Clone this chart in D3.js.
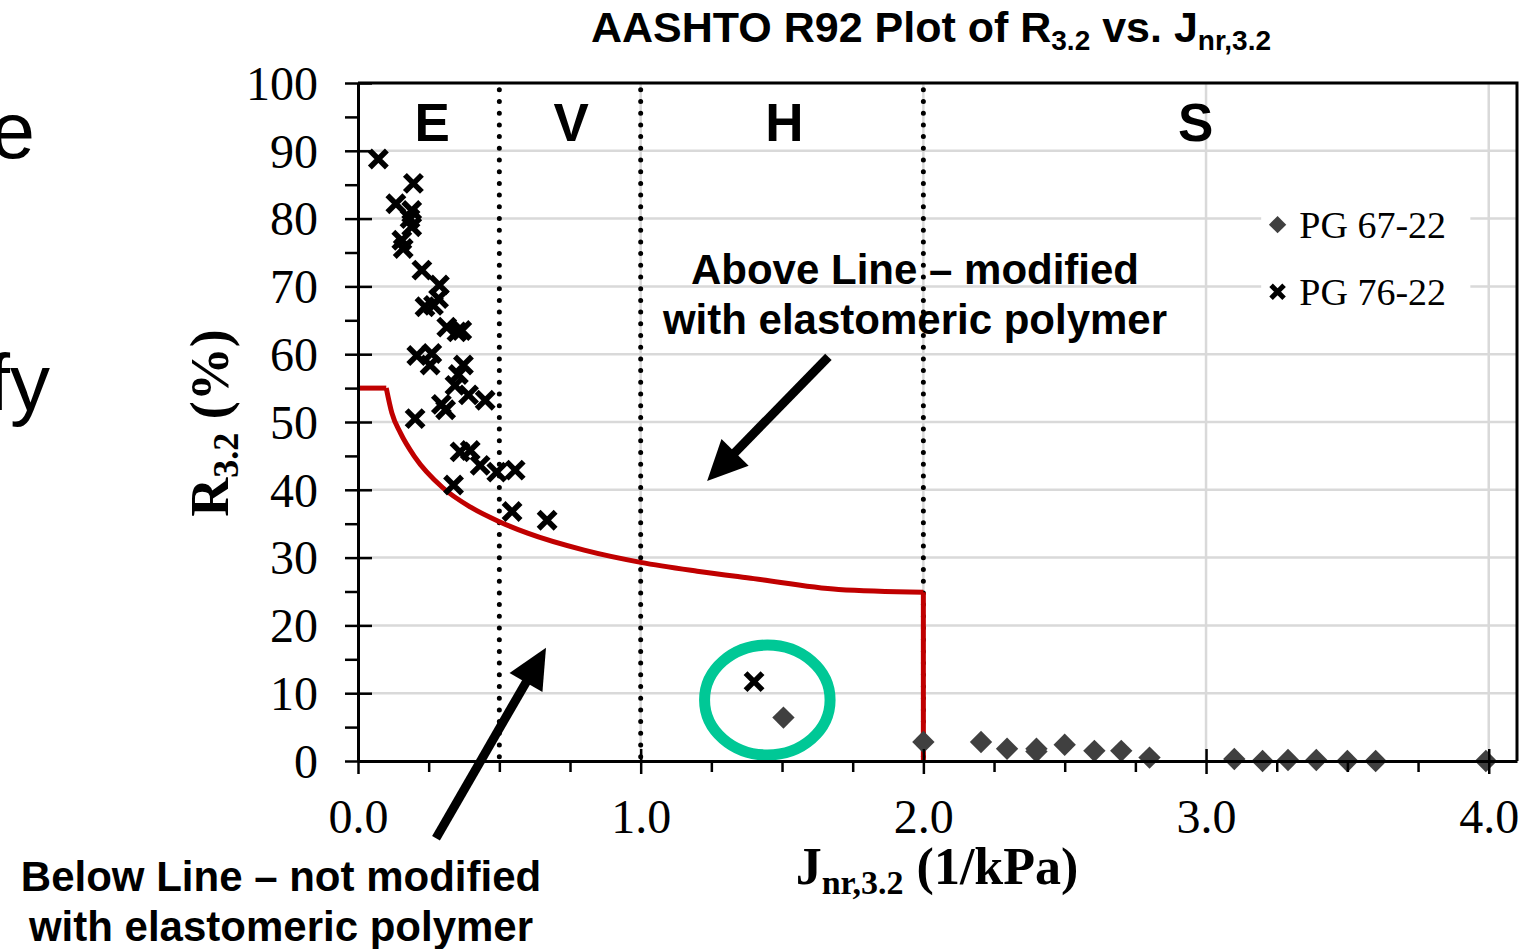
<!DOCTYPE html>
<html>
<head>
<meta charset="utf-8">
<script src="https://cdn.jsdelivr.net/npm/d3@7"></script>
<style>
  html, body { margin: 0; padding: 0; background: #fff; }
  svg { display: block; }
</style>
</head>
<body>
<div id="wrapper"></div>
<script>
// ---- data ----
const seriesNames = ["PG 67-22", "PG 76-22"]

// PG 67-22 (diamonds): Jnr,3.2 and R3.2
const pg67Jnr = [1.505, 2.0, 2.204, 2.296, 2.40, 2.40, 2.50, 2.605, 2.70, 2.80, 3.10, 3.20, 3.29, 3.39, 3.50, 3.60, 3.99]
const pg67R   = [6.4, 2.8, 2.8, 1.8, 1.8, 1.4, 2.4, 1.5, 1.5, 0.5, 0.3, 0.0, 0.15, 0.15, 0.0, 0.0, 0.0]

// PG 76-22 (crosses)
const pg76Jnr = [0.072, 0.196, 0.134, 0.19, 0.184, 0.19, 0.155, 0.16, 0.226, 0.288, 0.237, 0.267, 0.285,
                 0.314, 0.367, 0.35, 0.208, 0.261, 0.255, 0.373, 0.355, 0.343, 0.391, 0.45, 0.202, 0.295,
                 0.31, 0.361, 0.397, 0.432, 0.491, 0.556, 0.338, 0.545, 0.669, 1.401]
const pg76R   = [88.8, 85.2, 82.2, 81.2, 80.0, 78.8, 76.8, 75.6, 72.4, 70.2, 67.0, 67.2, 68.2,
                 64.0, 63.5, 63.3, 59.8, 60.1, 58.4, 58.4, 57.0, 55.4, 54.0, 53.2, 50.5, 52.6,
                 51.8, 45.6, 45.8, 43.6, 42.6, 42.9, 40.7, 36.8, 35.5, 11.7]

// red AASHTO R92 limit line
const limitJnr = [0, 0.1, 0.12, 0.15, 0.2, 0.3, 0.4, 0.5, 0.6, 0.8, 1.0, 1.2, 1.4, 1.7, 2.0, 2.0]
const limitR   = [55, 55, 51.3, 48.4, 44.9, 40.3, 37.4, 35.3, 33.6, 31.1, 29.3, 28.0, 26.9, 25.3, 24.9, 0]

// zone boundaries and labels
const zoneBounds = [0.5, 1.0, 2.0]
const zoneLabels = ["E", "V", "H", "S"]
const zoneLabelJnr = [0.262, 0.754, 1.508, 2.963]

// ticks
const xMajorTicks = [0, 1, 2, 3, 4]
const xMinorTicks = [0.25, 0.5, 0.75, 1.25, 1.5, 1.75, 2.25, 2.5, 2.75, 3.25, 3.5, 3.75]
const yMajorTicks = [0, 10, 20, 30, 40, 50, 60, 70, 80, 90, 100]
const yMinorTicks = [5, 15, 25, 35, 45, 55, 65, 75, 85, 95]

const drawChart = () => {
  const dimensions = {
    width: 1540,
    height: 949,
    margin: { top: 83, right: 23, bottom: 188, left: 358 },
  }
  dimensions.boundedWidth = dimensions.width - dimensions.margin.left - dimensions.margin.right
  dimensions.boundedHeight = dimensions.height - dimensions.margin.top - dimensions.margin.bottom

  const serif = "'Liberation Serif', 'Times New Roman', serif"
  const sans = "'Liberation Sans', Arial, sans-serif"

  const svg = d3.select("#wrapper")
    .append("svg")
      .attr("width", dimensions.width)
      .attr("height", dimensions.height)

  // leftover slide text on the far left (cut by the picture edge, as in the source)
  svg.append("text").attr("x", 35).attr("y", 158)
    .attr("text-anchor", "end").style("font-family", sans).style("font-size", "80px").text("e")
  svg.append("text").attr("x", 50).attr("y", 410)
    .attr("text-anchor", "end").style("font-family", sans).style("font-size", "80px").text("fy")

  const bounds = svg.append("g")
    .attr("transform", `translate(${dimensions.margin.left},${dimensions.margin.top})`)

  const xScale = d3.scaleLinear().domain([0, 4.1]).range([0, dimensions.boundedWidth])
  const yScale = d3.scaleLinear().domain([0, 100]).range([dimensions.boundedHeight, 0])

  // gridlines
  bounds.append("g").selectAll("line")
    .data(yMajorTicks.slice(1))
    .join("line")
      .attr("x1", 0).attr("x2", dimensions.boundedWidth)
      .attr("y1", d => yScale(d)).attr("y2", d => yScale(d))
      .attr("stroke", "#d9d9d9").attr("stroke-width", 2.5)
  bounds.append("g").selectAll("line")
    .data(xMajorTicks.slice(1))
    .join("line")
      .attr("x1", d => xScale(d)).attr("x2", d => xScale(d))
      .attr("y1", 0).attr("y2", dimensions.boundedHeight)
      .attr("stroke", "#d9d9d9").attr("stroke-width", 2.5)

  // legend background knocks out the gridlines
  bounds.append("rect")
    .attr("x", xScale(3.195)).attr("y", yScale(83.7))
    .attr("width", xScale(0.74)).attr("height", dimensions.boundedHeight - yScale(18))
    .attr("fill", "#fff")

  // zone dividers (dotted)
  bounds.append("g").selectAll("line")
    .data(zoneBounds)
    .join("line")
      .attr("x1", d => xScale(d)).attr("x2", d => xScale(d))
      .attr("y1", yScale(99)).attr("y2", dimensions.boundedHeight)
      .attr("stroke", "#000").attr("stroke-width", 5)
      .attr("stroke-linecap", "round").attr("stroke-dasharray", "0 11.7")

  // zone letters
  bounds.append("g").selectAll("text")
    .data(zoneLabels)
    .join("text")
      .attr("x", (d, i) => xScale(zoneLabelJnr[i]))
      .attr("y", yScale(91.5))
      .attr("text-anchor", "middle")
      .style("font-family", sans).style("font-weight", "bold").style("font-size", "53px")
      .text(d => d)

  // red limit line: flat part, curve, vertical drop
  const limitData = d3.zip(limitJnr, limitR)
  const straight = d3.line().x(d => xScale(d[0])).y(d => yScale(d[1]))
  const curved = d3.line().x(d => xScale(d[0])).y(d => yScale(d[1])).curve(d3.curveMonotoneX)
  const redPaths = [straight(limitData.slice(0, 2)), curved(limitData.slice(1, -1)), straight(limitData.slice(-2))]
  bounds.append("g").selectAll("path")
    .data(redPaths)
    .join("path")
      .attr("d", d => d)
      .attr("fill", "none").attr("stroke", "#c00000").attr("stroke-width", 5)
      .attr("stroke-linejoin", "round")

  // annotations: ellipse + arrows
  bounds.append("ellipse")
    .attr("cx", xScale(1.448)).attr("cy", yScale(9.0))
    .attr("rx", xScale(0.222)).attr("ry", dimensions.boundedHeight - yScale(8.1))
    .attr("fill", "none").attr("stroke", "#00c896").attr("stroke-width", 11)

  const drawArrow = (j1, r1, j2, r2) => {
    const x1 = xScale(j1), y1 = yScale(r1), x2 = xScale(j2), y2 = yScale(r2)
    const ang = Math.atan2(y2 - y1, x2 - x1)
    const headLen = 40, headHalf = 19
    const bx = x2 - headLen * Math.cos(ang), by = y2 - headLen * Math.sin(ang)
    bounds.append("line")
      .attr("x1", x1).attr("y1", y1).attr("x2", bx + 2 * Math.cos(ang)).attr("y2", by + 2 * Math.sin(ang))
      .attr("stroke", "#000").attr("stroke-width", 9)
    const px = -Math.sin(ang), py = Math.cos(ang)
    bounds.append("path")
      .attr("d", `M${x2},${y2}L${bx + headHalf * px},${by + headHalf * py}L${bx - headHalf * px},${by - headHalf * py}Z`)
      .attr("fill", "#000")
  }
  drawArrow(1.664, 59.6, 1.235, 41.3)
  drawArrow(0.276, -11.4, 0.665, 16.7)

  // data: PG 67-22 diamonds
  const diamond = d3.symbol(d3.symbolSquare, 250)
  bounds.append("g").selectAll("path")
    .data(d3.zip(pg67Jnr, pg67R))
    .join("path")
      .attr("d", diamond)
      .attr("transform", d => `translate(${xScale(d[0])},${yScale(d[1])}) rotate(45)`)
      .attr("fill", "#404040")

  // data: PG 76-22 crosses
  const crossPath = r => `M${-r},${-r}L${r},${r}M${-r},${r}L${r},${-r}`
  bounds.append("g").selectAll("path")
    .data(d3.zip(pg76Jnr, pg76R))
    .join("path")
      .attr("d", crossPath(8.5))
      .attr("transform", d => `translate(${xScale(d[0])},${yScale(d[1])})`)
      .attr("fill", "none").attr("stroke", "#000").attr("stroke-width", 5.5)

  // axes
  const xAxis = bounds.append("g")
    .attr("transform", `translate(0,${dimensions.boundedHeight})`)
    .call(d3.axisBottom(xScale).tickValues(xMajorTicks).tickFormat(d3.format(".1f")).tickSizeOuter(0))
  xAxis.selectAll(".tick line").attr("y1", -12).attr("y2", 13).attr("stroke-width", 2.5)
  xAxis.selectAll(".tick text")
    .attr("y", 72).attr("dy", 0)
    .style("font-family", serif).style("font-size", "48px").attr("fill", "#000")
  bounds.append("g")
    .attr("transform", `translate(0,${dimensions.boundedHeight})`)
    .call(d3.axisBottom(xScale).tickValues(xMinorTicks).tickFormat("").tickSize(11).tickSizeOuter(0))
    .call(g => g.select(".domain").remove())
    .selectAll("line").attr("stroke-width", 2.5)

  const yAxis = bounds.append("g")
    .call(d3.axisLeft(yScale).tickValues(yMajorTicks).tickSizeOuter(0))
  yAxis.selectAll(".tick line").attr("x1", -13).attr("x2", 14).attr("stroke-width", 2.5)
  yAxis.selectAll(".tick text")
    .attr("x", -40).attr("dy", "0.34em")
    .style("font-family", serif).style("font-size", "48px").attr("fill", "#000")
  bounds.append("g")
    .call(d3.axisLeft(yScale).tickValues(yMinorTicks).tickFormat("").tickSize(13).tickSizeOuter(0))
    .call(g => g.select(".domain").remove())
    .selectAll("line").attr("stroke-width", 2.5)

  xAxis.select(".domain").attr("stroke-width", 3)
  yAxis.select(".domain").attr("stroke-width", 3)

  // frame top + right
  bounds.append("path")
    .attr("d", `M0,0H${dimensions.boundedWidth}V${dimensions.boundedHeight}`)
    .attr("fill", "none").attr("stroke", "#000").attr("stroke-width", 3)

  // legend
  const legend = bounds.append("g")
  const legendY = [yScale(79.1), yScale(69.2)]
  legend.append("path")
    .attr("d", d3.symbol(d3.symbolSquare, 150)())
    .attr("transform", `translate(${xScale(3.253)},${legendY[0]}) rotate(45)`)
    .attr("fill", "#404040")
  legend.append("path")
    .attr("d", crossPath(6.5))
    .attr("transform", `translate(${xScale(3.253)},${legendY[1]})`)
    .attr("fill", "none").attr("stroke", "#000").attr("stroke-width", 5)
  legend.selectAll("text")
    .data(seriesNames)
    .join("text")
      .attr("x", xScale(3.33))
      .attr("y", (d, i) => legendY[i] + 13)
      .style("font-family", serif).style("font-size", "38px")
      .text(d => d)

  // annotation text
  const noteText = (lines, cx, y0) => {
    svg.append("g").selectAll("text")
      .data(lines)
      .join("text")
        .attr("x", cx).attr("y", (d, i) => y0 + i * 50)
        .attr("text-anchor", "middle")
        .style("font-family", sans).style("font-weight", "bold").style("font-size", "42px")
        .text(d => d)
  }
  noteText(["Above Line \u2013 modified", "with elastomeric polymer"], 915, 284)
  noteText(["Below Line \u2013 not modified", "with elastomeric polymer"], 281, 891)

  // title
  const title = svg.append("text")
    .attr("x", 931).attr("y", 42)
    .attr("text-anchor", "middle")
    .style("font-family", sans).style("font-weight", "bold").style("font-size", "43px")
  title.append("tspan").text("AASHTO R92 Plot of R")
  title.append("tspan").attr("dy", 8).style("font-size", "28px").text("3.2")
  title.append("tspan").attr("dy", -8).text(" vs. J")
  title.append("tspan").attr("dy", 8).style("font-size", "28px").text("nr,3.2")

  // x axis label
  const xLabel = svg.append("text")
    .attr("x", 937).attr("y", 884)
    .attr("text-anchor", "middle")
    .style("font-family", serif).style("font-weight", "bold").style("font-size", "52px")
  xLabel.append("tspan").text("J")
  xLabel.append("tspan").attr("dy", 10).style("font-size", "34px").text("nr,3.2")
  xLabel.append("tspan").attr("dy", -10).text(" (1/kPa)")

  // y axis label
  const yLabel = svg.append("text")
    .attr("transform", "translate(228,423) rotate(-90)")
    .attr("text-anchor", "middle")
    .style("font-family", serif).style("font-weight", "bold").style("font-size", "54px")
  yLabel.append("tspan").text("R")
  yLabel.append("tspan").attr("dy", 10).style("font-size", "36px").text("3.2")
  yLabel.append("tspan").attr("dy", -10).text(" (%)")
}

drawChart()
</script>
</body>
</html>
